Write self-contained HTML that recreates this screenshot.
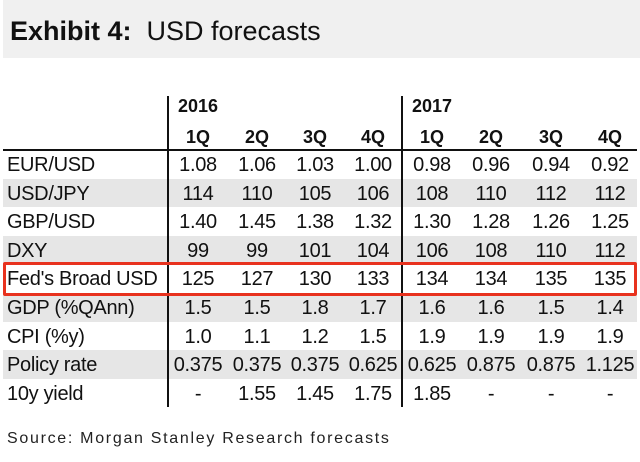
<!DOCTYPE html>
<html><head><meta charset="utf-8">
<style>
body{margin:0;width:640px;height:462px;background:#fff;position:relative;overflow:hidden;font-family:"Liberation Sans",sans-serif;color:#111}
.abs{position:absolute}
.cell{position:absolute;font-size:20px;line-height:28px;text-align:center;width:60px;white-space:nowrap;letter-spacing:-0.3px}
.lbl{position:absolute;font-size:20px;line-height:28px;left:7px;white-space:nowrap;letter-spacing:-0.3px}
.hdr{position:absolute;font-size:18px;font-weight:bold;white-space:nowrap}
</style></head><body>
<div class="abs" style="left:3px;top:0;width:637px;height:58px;background:#f0f0f0"></div>
<div class="abs" style="left:10px;top:14px;font-size:27px;line-height:34px;white-space:nowrap"><b>Exhibit 4:</b>&nbsp; USD forecasts</div>
<div id="tbl"></div>
<div class="abs" style="left:7px;top:430px;font-size:16px;letter-spacing:1.7px;color:#222;white-space:nowrap">Source: Morgan Stanley Research forecasts</div>
<script>
const rowLabels=["EUR/USD","USD/JPY","GBP/USD","DXY","Fed's Broad USD","GDP (%QAnn)","CPI (%y)","Policy rate","10y yield"];
const quarters=["1Q","2Q","3Q","4Q","1Q","2Q","3Q","4Q"];
const years=["2016","2017"];
const eurusd=["1.08","1.06","1.03","1.00","0.98","0.96","0.94","0.92"];
const usdjpy=["114","110","105","106","108","110","112","112"];
const gbpusd=["1.40","1.45","1.38","1.32","1.30","1.28","1.26","1.25"];
const dxy=["99","99","101","104","106","108","110","112"];
const fedBroad=["125","127","130","133","134","134","135","135"];
const gdp=["1.5","1.5","1.8","1.7","1.6","1.6","1.5","1.4"];
const cpi=["1.0","1.1","1.2","1.5","1.9","1.9","1.9","1.9"];
const policy=["0.375","0.375","0.375","0.625","0.625","0.875","0.875","1.125"];
const yield10=["-","1.55","1.45","1.75","1.85","-","-","-"];
const rows=[eurusd,usdjpy,gbpusd,dxy,fedBroad,gdp,cpi,policy,yield10];
const tbl=document.getElementById('tbl');
const top0=150,rh=28.6,colX=[198,257,315,373,432,491,551,610];
function add(html,cls,style){const d=document.createElement('div');d.className=cls;d.style.cssText=style;d.textContent=html;tbl.appendChild(d);return d;}
rows.forEach((r,i)=>{
  const y=top0+i*rh;
  if(i%2===1){const s=add('','abs',`left:3px;top:${y}px;width:634px;height:${rh}px;background:#e6e6e6`);
    
    }
  const l=add(rowLabels[i],'lbl',`top:${y+1}px`);
  
  
  r.forEach((v,j)=>{const c=add(v,'cell',`left:${colX[j]-30}px;top:${y+1}px`);
    
    });
});
years.forEach((yv,k)=>{const h=add(yv,'hdr',`left:${k?412:178}px;top:96px`);
  
  });
quarters.forEach((q,j)=>{const h=add(q,'hdr',`left:${colX[j]-30}px;width:60px;text-align:center;top:127px`);
  
  });
const hl=add('','abs','left:3px;top:149px;width:634px;height:2px;background:#111');


[168,402].forEach(x=>{const v=add('','abs',`left:${x-1}px;top:96px;width:2px;height:${top0+rows.length*rh-96}px;background:#111`);
  
  });
const box=add('','abs',`left:3px;top:${top0+4*rh-2}px;width:628px;height:${rh-1}px;border:3px solid #e8321e;border-radius:2px`);


</script>
</body></html>
